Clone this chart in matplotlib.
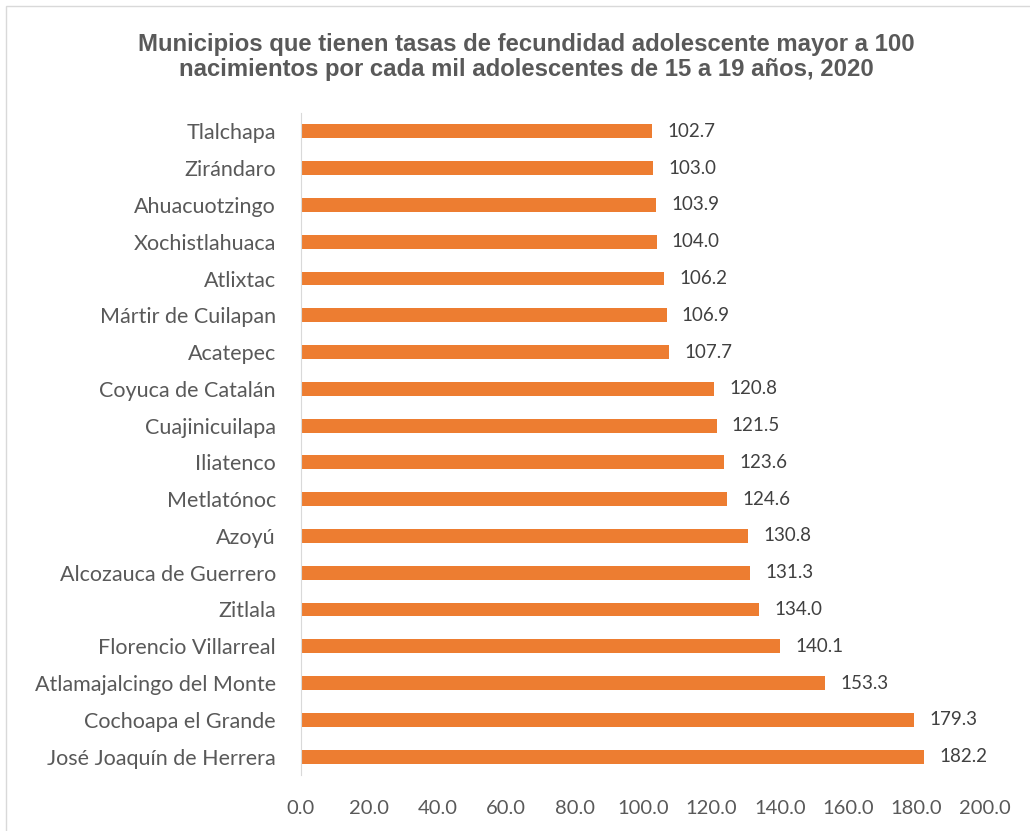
import matplotlib.pyplot as plt
from matplotlib.patches import Rectangle

municipios = [
    'Tlalchapa', 'Zirándaro', 'Ahuacuotzingo', 'Xochistlahuaca', 'Atlixtac',
    'Mártir de Cuilapan', 'Acatepec', 'Coyuca de Catalán', 'Cuajinicuilapa',
    'Iliatenco', 'Metlatónoc', 'Azoyú', 'Alcozauca de Guerrero', 'Zitlala',
    'Florencio Villarreal', 'Atlamajalcingo del Monte', 'Cochoapa el Grande',
    'José Joaquín de Herrera',
]
tasas = [102.7, 103.0, 103.9, 104.0, 106.2, 106.9, 107.7, 120.8, 121.5,
         123.6, 124.6, 130.8, 131.3, 134.0, 140.1, 153.3, 179.3, 182.2]
x_ticks = [0, 20, 40, 60, 80, 100, 120, 140, 160, 180, 200]

gris = '#595959'
naranja = '#ED7D31'
fuente = ['Lato', 'DejaVu Sans']

fig = plt.figure(figsize=(10.3, 8.31), dpi=100)
ax = fig.add_axes([0.2922, 0.0674, 0.6641, 0.7966])

pos = list(range(len(municipios)))
ax.barh(pos, tasas, height=0.38, color=naranja)
ax.set_ylim(len(municipios) - 0.5, -0.5)
ax.set_xlim(0, 200)

for y, v in zip(pos, tasas):
    ax.annotate(f'{v:.1f}', (v, y), xytext=(11, 0), textcoords='offset points',
                va='center', ha='left', fontsize=13.5, color='#404040', family=fuente)

ax.set_yticks(pos)
ax.set_yticklabels(municipios, fontsize=15.5, color=gris, family=fuente)
ax.set_xticks(x_ticks)
ax.set_xticklabels([f'{t:.1f}' for t in x_ticks], fontsize=14.5, color=gris, family=fuente)
ax.tick_params(axis='both', length=0)
ax.tick_params(axis='y', pad=18)
ax.tick_params(axis='x', pad=18)

for s in ['top', 'right', 'bottom']:
    ax.spines[s].set_visible(False)
ax.spines['left'].set_color('#D9D9D9')

fig.text(0.511, 0.931, 'Municipios que tienen tasas de fecundidad adolescente mayor a 100\n'
         'nacimientos por cada mil adolescentes de 15 a 19 años, 2020',
         ha='center', va='center', fontsize=17.2, fontweight='bold', color=gris,
         family='Liberation Sans', linespacing=1.12)

fig.patches.append(Rectangle((0.006, -0.01), 1.2, 1.003, transform=fig.transFigure,
                             fill=False, edgecolor='#D9D9D9', linewidth=1))

plt.savefig('out.png', dpi=100)
